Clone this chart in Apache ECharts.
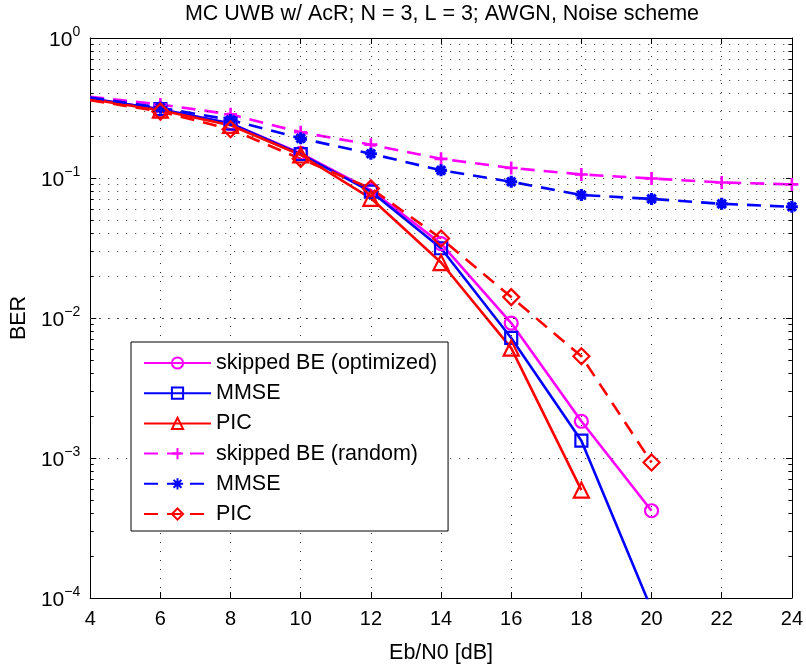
<!DOCTYPE html>
<html><head><meta charset="utf-8">
<script src="https://cdn.jsdelivr.net/npm/echarts@6/dist/echarts.min.js"></script>
<style>html,body{margin:0;padding:0;background:#fff}#c{width:806px;height:669px}</style>
</head><body><div id="c"></div>
<script>
// ---- data ----
const titleText = 'MC UWB w/ AcR; N = 3, L = 3; AWGN, Noise scheme';
const xShort = [4, 6, 8, 10, 12, 14, 16, 18, 20];
const xLong = [4, 6, 8, 10, 12, 14, 16, 18, 20, 22, 24];
const berOptimized = [0.37, 0.31, 0.245, 0.150, 0.082, 0.034, 0.0092, 0.00183, 0.00042];
const berMmse = [0.37, 0.31, 0.245, 0.148, 0.080, 0.0315, 0.0072, 0.00133, 0.000083];
const xPic = [4, 6, 8, 10, 12, 14, 16, 18];
const berPic = [0.365, 0.305, 0.238, 0.146, 0.0716, 0.0249, 0.0061, 0.00059];
const berRandom = [0.38, 0.335, 0.285, 0.212, 0.173, 0.137, 0.118, 0.106, 0.0992, 0.0929, 0.090];
const berMmseRand = [0.375, 0.318, 0.26, 0.192, 0.149, 0.1135, 0.094, 0.0756, 0.0709, 0.0654, 0.0623];
const berPicRand = [0.36, 0.298, 0.223, 0.137, 0.0843, 0.037, 0.0141, 0.00533, 0.00093];
const xTicks = [4, 6, 8, 10, 12, 14, 16, 18, 20, 22, 24];
const yDecades = [1e-4, 1e-3, 1e-2, 1e-1, 1];
const names = ['skipped BE (optimized)', 'MMSE', 'PIC', 'skipped BE (random)', 'MMSE\u200B', 'PIC\u200B'];

// ---- helpers ----
function pts(xs, ys) {
  return xs.map((x, i) => (i === 0 ? { value: [x, ys[i]], symbol: 'none' } : [x, ys[i]]));
}
const minorVals = [];
for (let d = 0; d < yDecades.length - 1; d++) {
  for (let k = 2; k <= 9; k++) minorVals.push(+(yDecades[d] * k).toPrecision(3));
}
const FONT = 'Liberation Sans, Arial, Helvetica, sans-serif';
const PLUS = 'path://M5,0L5,10M0,5L10,5';
const STAR = 'path://M5,0L5,10M0,5L10,5M1.5,1.5L8.5,8.5M8.5,1.5L1.5,8.5';
const DASH = [14, 9];

function lineSeries(name, data, color, dashed, symbol, size, bw) {
  return {
    type: 'line', name, data, clip: true,
    symbol, symbolSize: size, showAllSymbol: true,
    lineStyle: { color, width: 2.6, type: dashed ? DASH : 'solid' },
    itemStyle: { color: 'rgba(255,255,255,0)', borderColor: color, borderWidth: bw || 2.2 },
    emphasis: { disabled: true }, z: 3
  };
}

// minor tick segments at both vertical box edges (positioned through the axes)
const tickW = 0.1;
const minorTickLines = [];
minorVals.forEach(v => {
  minorTickLines.push([{ coord: [4, v] }, { coord: [4 + tickW, v] }]);
  minorTickLines.push([{ coord: [24 - tickW, v] }, { coord: [24, v] }]);
});

const chart = echarts.init(document.getElementById('c'), null, { renderer: 'canvas' });
chart.setOption({
  animation: false,
  backgroundColor: '#fff',
  textStyle: { fontFamily: FONT },
  title: {
    text: titleText, left: 442, top: 3, textAlign: 'center', padding: 0,
    textStyle: { fontFamily: FONT, fontSize: 21.5, fontWeight: 'normal', color: '#000' }
  },
  grid: { left: 90, right: 13, top: 38, bottom: 64, containLabel: false },
  legend: {
    data: names, orient: 'vertical', left: 131, top: 342,
    width: 317, padding: [10, 11, 6, 12], itemGap: 8.2,
    itemWidth: 67, itemHeight: 14,
    backgroundColor: '#fff', borderColor: '#000', borderWidth: 1,
    textStyle: { fontFamily: FONT, fontSize: 21.5, color: '#000' },
    selectedMode: false
  },
  xAxis: [{
    type: 'value', min: 4, max: 24, interval: 2,
    name: 'Eb/N0 [dB]', nameLocation: 'middle', nameGap: 44,
    nameTextStyle: { fontFamily: FONT, fontSize: 21.5, color: '#000' },
    axisLine: { lineStyle: { color: '#000', width: 1 } },
    axisTick: { inside: true, length: 6, lineStyle: { color: '#000' } },
    axisLabel: { fontFamily: FONT, fontSize: 20, color: '#000', margin: 11 },
    splitLine: { show: true, lineStyle: { color: '#333', type: [1, 8], width: 1 } }
  }, {
    type: 'value', min: 4, max: 24, interval: 2, position: 'top',
    axisLine: { show: true, onZero: false, lineStyle: { color: '#000', width: 1 } },
    axisTick: { inside: true, length: 6, lineStyle: { color: '#000' } },
    axisLabel: { show: false }, splitLine: { show: false }
  }],
  yAxis: [{
    type: 'log', logBase: 10, min: 1e-4, max: 1,
    name: 'BER', nameLocation: 'middle', nameGap: 54, nameRotate: 90,
    nameTextStyle: { fontFamily: FONT, fontSize: 21.5, color: '#000' },
    axisLine: { lineStyle: { color: '#000', width: 1 } },
    axisTick: { inside: true, length: 6, lineStyle: { color: '#000' } },
    axisLabel: {
      margin: 10, color: '#000',
      formatter: function (v) {
        const e = Math.round(Math.log10(v));
        return '{b|10}{s|' + (e < 0 ? '\u2212' + (-e) : e) + '}';
      },
      rich: {
        b: { fontFamily: FONT, fontSize: 21, color: '#000', lineHeight: 26, verticalAlign: 'bottom' },
        s: { fontFamily: FONT, fontSize: 14, color: '#000', lineHeight: 26, verticalAlign: 'top' }
      }
    },
    splitLine: { show: true, lineStyle: { color: '#333', type: [1, 8], width: 1 } }
  }, {
    type: 'log', logBase: 10, min: 1e-4, max: 1, position: 'right',
    axisLine: { show: true, lineStyle: { color: '#000', width: 1 } },
    axisTick: { inside: true, length: 6, lineStyle: { color: '#000' } },
    axisLabel: { show: false }, splitLine: { show: false }
  }],
  series: [
    {
      type: 'line', name: '__grid', data: [], silent: true, z: 1,
      markLine: {
        silent: true, symbol: 'none', animation: false,
        label: { show: false },
        lineStyle: { color: '#333', type: [1, 8], width: 1 },
        emphasis: { disabled: true },
        data: minorVals.map(v => ({ yAxis: v }))
      }
    },
    {
      type: 'line', name: '__ticks', data: [], silent: true, z: 2,
      markLine: {
        silent: true, symbol: 'none', animation: false,
        label: { show: false },
        lineStyle: { color: '#000', type: 'solid', width: 1 },
        emphasis: { disabled: true },
        data: minorTickLines
      }
    },
    lineSeries(names[0], pts(xShort, berOptimized), '#ff00ff', false, 'circle', 13),
    lineSeries(names[1], pts(xShort, berMmse), '#0000ff', false, 'rect', 12),
    lineSeries(names[2], pts(xPic, berPic), '#ff0000', false, 'triangle', 15),
    lineSeries(names[3], pts(xLong, berRandom), '#ff00ff', true, PLUS, 13, 2.6),
    lineSeries(names[4], pts(xLong, berMmseRand), '#0000ff', true, STAR, 12, 3.2),
    lineSeries(names[5], pts(xShort, berPicRand), '#ff0000', true, 'diamond', 16)
  ]
});
</script>
</body></html>
